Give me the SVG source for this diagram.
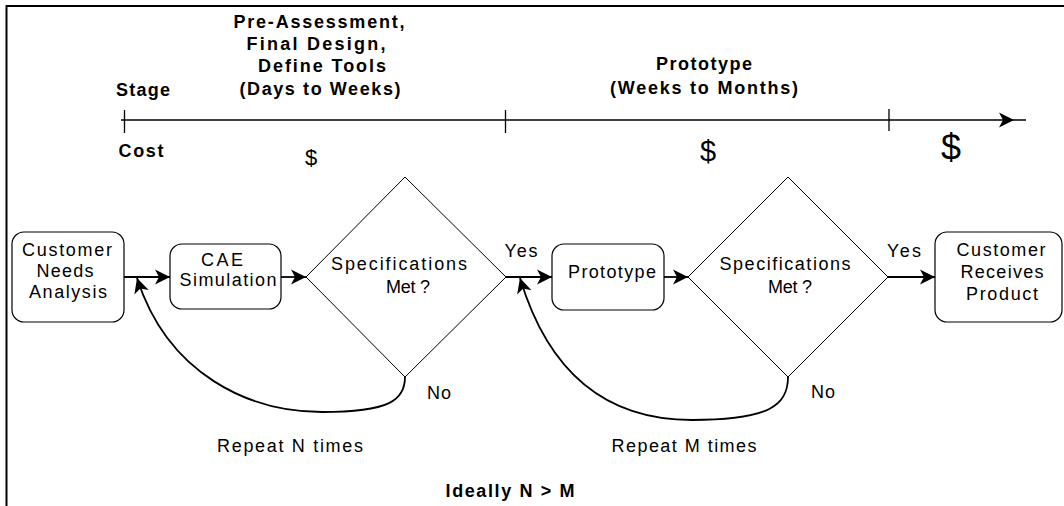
<svg xmlns="http://www.w3.org/2000/svg" width="1064" height="506" viewBox="0 0 1064 506">
<defs>
<style>
.t{font-family:"Liberation Sans",Arial,sans-serif;font-size:18px;fill:#000;text-anchor:middle}
.b{font-family:"Liberation Sans",Arial,sans-serif;font-size:18px;font-weight:bold;fill:#000;text-anchor:middle}
.box{fill:#fff;stroke:#000;stroke-width:1.2}
.dia{fill:none;stroke:#000;stroke-width:1}
.con{fill:none;stroke:#000;stroke-width:1.8}
</style>
<marker id="ah" markerUnits="userSpaceOnUse" markerWidth="18" markerHeight="18" viewBox="-16 -9 18 18" refX="0" refY="0" orient="auto">
<path d="M0,0 L-15,-7.5 L-11,0 L-15,7.5 Z" fill="#000"/>
</marker>
</defs>
<g id="frame"><path d="M6.5,506 V6 H1064" fill="none" stroke="#000" stroke-width="2"/></g>
<g id="timeline">
<path d="M121,120 H1014" class="con" marker-end="url(#ah)" style="stroke-width:1.5"/>
<path d="M1014,120 H1026" class="con" style="stroke-width:1.5"/>
<path d="M124.5,110 V133 M505.5,110 V133 M889,109 V131" stroke="#000" stroke-width="1.3" fill="none"/>
<text class="b" x="143" y="96" textLength="54" lengthAdjust="spacing">Stage</text>
<text class="b" x="141" y="157" textLength="45" lengthAdjust="spacing">Cost</text>
<text class="b" x="319" y="28" textLength="171" lengthAdjust="spacing">Pre-Assessment,</text>
<text class="b" x="316" y="50" textLength="139" lengthAdjust="spacing">Final Design,</text>
<text class="b" x="322" y="72" textLength="128" lengthAdjust="spacing">Define Tools</text>
<text class="b" x="320" y="95" textLength="161" lengthAdjust="spacing">(Days to Weeks)</text>
<text class="b" x="704" y="70" textLength="96" lengthAdjust="spacing">Prototype</text>
<text class="b" x="704" y="94" textLength="188" lengthAdjust="spacing">(Weeks to Months)</text>
<text class="t" x="311" y="165" style="font-size:22px">$</text>
<text class="t" x="708" y="161" style="font-size:29px">$</text>
<text class="t" x="951" y="160" style="font-size:36px">$</text>
</g>
<g id="connectors">
<path d="M124,277 H170" class="con" marker-end="url(#ah)"/>
<path d="M281,277 H306" class="con" marker-end="url(#ah)"/>
<path d="M506,277 H552" class="con" marker-end="url(#ah)"/>
<path d="M664,277 H688" class="con" marker-end="url(#ah)"/>
<path d="M888,277 H935" class="con" marker-end="url(#ah)"/>
<path d="M405,377 C405,400 390,412 322,412 C250,412 168,375 137,278" class="con" marker-end="url(#ah)"/>
<path d="M788,377 C788,405 770,420 692,420 C610,420 550,378 520,278" class="con" marker-end="url(#ah)"/>
</g>
<g id="n-customer-needs">
<rect x="12" y="232" width="112" height="90" rx="12" class="box"/>
<text class="t" x="67" y="256" textLength="90" lengthAdjust="spacing">Customer</text>
<text class="t" x="65" y="277" textLength="57" lengthAdjust="spacing">Needs</text>
<text class="t" x="68" y="298" textLength="78" lengthAdjust="spacing">Analysis</text>
</g>
<g id="n-cae">
<rect x="170" y="244" width="111" height="65" rx="12" class="box"/>
<text class="t" x="222" y="266" textLength="42" lengthAdjust="spacing">CAE</text>
<text class="t" x="228" y="286" textLength="97" lengthAdjust="spacing">Simulation</text>
</g>
<g id="n-spec1">
<path d="M405,177 L506,277 L405,377 L306,277 Z" class="dia"/>
<text class="t" x="399" y="270" textLength="136" lengthAdjust="spacing">Specifications</text>
<text class="t" x="408" y="293" textLength="44" lengthAdjust="spacing">Met ?</text>
</g>
<g id="n-prototype">
<rect x="552" y="244" width="112" height="66" rx="12" class="box"/>
<text class="t" x="612" y="278" textLength="88" lengthAdjust="spacing">Prototype</text>
</g>
<g id="n-spec2">
<path d="M788,177 L888,277 L788,377 L688,277 Z" class="dia"/>
<text class="t" x="785" y="270" textLength="131" lengthAdjust="spacing">Specifications</text>
<text class="t" x="790" y="293" textLength="44" lengthAdjust="spacing">Met ?</text>
</g>
<g id="n-customer-receives">
<rect x="935" y="232" width="127" height="90" rx="12" class="box"/>
<text class="t" x="1001" y="256" textLength="89" lengthAdjust="spacing">Customer</text>
<text class="t" x="1002" y="278" textLength="83" lengthAdjust="spacing">Receives</text>
<text class="t" x="1002" y="300" textLength="72" lengthAdjust="spacing">Product</text>
</g>
<g id="labels">
<text class="t" x="521" y="257" textLength="33" lengthAdjust="spacing">Yes</text>
<text class="t" x="904" y="257" textLength="34" lengthAdjust="spacing">Yes</text>
<text class="t" x="439" y="399" textLength="24" lengthAdjust="spacing">No</text>
<text class="t" x="823" y="398" textLength="24" lengthAdjust="spacing">No</text>
<text class="t" x="290" y="452" textLength="146" lengthAdjust="spacing">Repeat N times</text>
<text class="t" x="684" y="452" textLength="145" lengthAdjust="spacing">Repeat M times</text>
<text class="b" x="510" y="497" textLength="129" lengthAdjust="spacing">Ideally N &gt; M</text>
</g>
</svg>
